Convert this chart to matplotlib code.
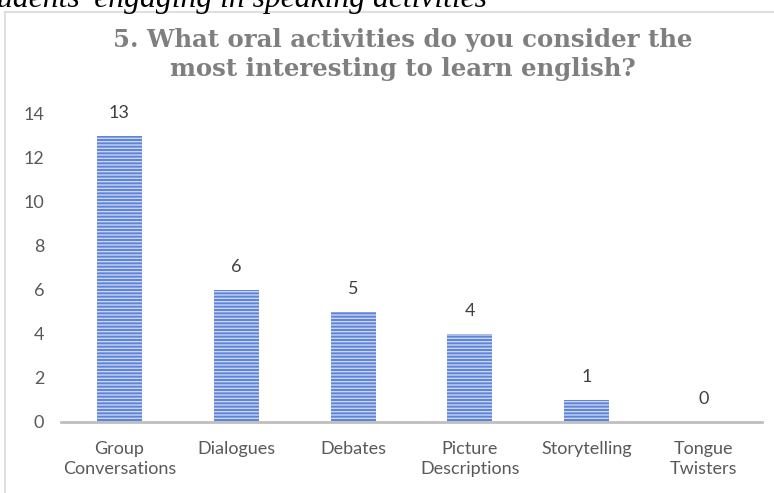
import matplotlib
matplotlib.use("Agg")
import matplotlib.pyplot as plt
from matplotlib.lines import Line2D

categories = ["Group\nConversations", "Dialogues", "Debates", "Picture\nDescriptions", "Storytelling", "Tongue\nTwisters"]
values = [13, 6, 5, 4, 1, 0]
yticks = [0, 2, 4, 6, 8, 10, 12, 14]
title_lines = ["5. What oral activities do you consider the", "most interesting to learn english?"]
caption = "udents' engaging in speaking activities"

W, H = 774, 493
fig = plt.figure(figsize=(W / 100, H / 100), dpi=100)
fig.patch.set_facecolor("white")

# plot area in pixels
left, right = 61, 762
y0, y14 = 422, 114
ax = fig.add_axes([left / W, (H - y0) / H, (right - left) / W, (y0 - y14) / H])
ax.set_xlim(-0.5, len(categories) - 0.5)
ax.set_ylim(0, 14)

plt.rcParams["hatch.linewidth"] = 1.0
ax.bar(range(len(categories)), values, width=0.385, color="#5f83d6",
       edgecolor="#c9d6f5", linewidth=0, hatch="-----")

label_font = "Lato"
for i, v in enumerate(values):
    ax.annotate(str(v), xy=(i, v), xytext=(0, 15), textcoords="offset pixels",
                ha="center", va="bottom", fontsize=13, color="#404040",
                family=label_font)

ax.set_xticks(range(len(categories)))
ax.set_xticklabels(categories, fontsize=13, color="#595959", family=label_font,
                   linespacing=1.25)
ax.set_yticks(yticks)
ax.set_yticklabels([str(t) for t in yticks], fontsize=13, color="#595959", family=label_font)
ax.tick_params(axis="both", length=0)
ax.tick_params(axis="x", pad=14)
ax.tick_params(axis="y", pad=12)
for s in ["top", "right", "left"]:
    ax.spines[s].set_visible(False)
ax.spines["bottom"].set_color("#bfbfbf")
ax.spines["bottom"].set_linewidth(2)

title_y = [40, 69]
for line, yy in zip(title_lines, title_y):
    fig.text(403 / W, 1 - yy / H, line, ha="center", va="center", fontsize=17.6,
             fontweight="bold", family="DejaVu Serif", color="#7f7f7f")

fig.text(-3 / W, 1 - 7 / H, caption, ha="left", va="baseline", fontsize=22.8,
         style="italic", family="Liberation Serif", color="black")

# chart border
fig.add_artist(Line2D([5 / W, 5 / W], [0, 1 - 12 / H], transform=fig.transFigure,
                      color="#d9d9d9", linewidth=1.2))
fig.add_artist(Line2D([5 / W, 1], [1 - 12 / H, 1 - 12 / H], transform=fig.transFigure,
                      color="#d9d9d9", linewidth=1.2))

fig.savefig("out.png", dpi=100, facecolor="white")
